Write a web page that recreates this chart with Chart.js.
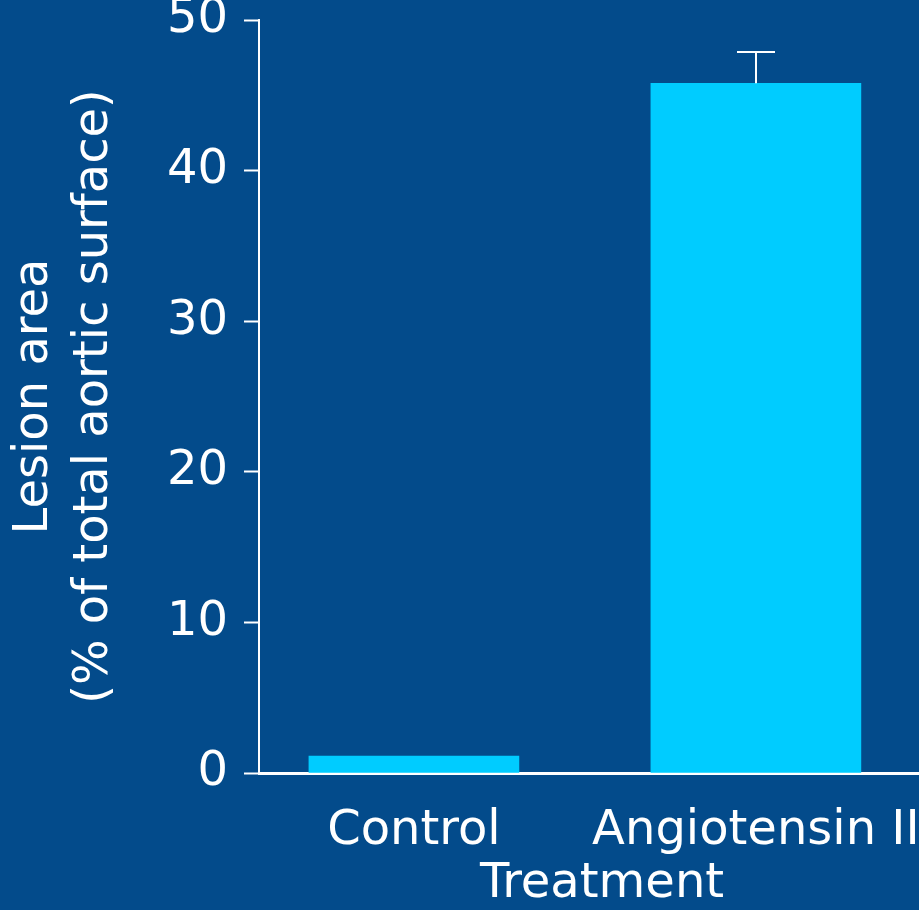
<!DOCTYPE html>
<html>
<head>
<meta charset="utf-8">
<script src="https://cdn.jsdelivr.net/npm/chart.js@4/dist/chart.umd.min.js"></script>
<style>
  html, body { margin: 0; padding: 0; background: #034B8B; overflow: hidden; }
  #wrap { position: relative; width: 945px; height: 910px; }
</style>
</head>
<body>
<div id="wrap"><canvas id="c"></canvas></div>
<script>
// Lesion area by treatment group (mean, upper SEM)
const categories = ['Control', 'Angiotensin II'];
const positions = [1, 2];
const lesionArea = [1.13, 45.8];
const lesionErr = [0, 2.1];
const yTicks = [0, 10, 20, 30, 40, 50];

const FONT = 'DejaVu Sans, Verdana, sans-serif';
const WHITE = '#ffffff';

// upward-only error bars with a cap
const errorBars = {
  id: 'errorBars',
  afterDatasetsDraw(chart) {
    const { ctx, scales: { x, y } } = chart;
    ctx.save();
    ctx.strokeStyle = WHITE;
    ctx.lineWidth = 2;
    lesionArea.forEach((v, i) => {
      if (!lesionErr[i]) return;
      const px = Math.round(x.getPixelForValue(positions[i]));
      const yTop = Math.round(y.getPixelForValue(v + lesionErr[i]));
      const yBar = y.getPixelForValue(v);
      ctx.beginPath();
      ctx.moveTo(px, yBar);
      ctx.lineTo(px, yTop);
      ctx.moveTo(px - 19, yTop);
      ctx.lineTo(px + 19, yTop);
      ctx.stroke();
    });
    ctx.restore();
  }
};

new Chart(document.getElementById('c'), {
  type: 'bar',
  data: {
    datasets: [{
      data: positions.map((p, i) => ({ x: p, y: lesionArea[i] })),
      backgroundColor: '#00CCFF',
      borderWidth: 0,
      barThickness: 210,
      grouped: false
    }]
  },
  options: {
    responsive: true,
    maintainAspectRatio: false,
    animation: false,
    layout: { padding: { top: 20, left: 0, right: 0, bottom: 0 } },
    plugins: { legend: { display: false }, tooltip: { enabled: false } },
    scales: {
      x: {
        type: 'linear',
        offset: false,
        min: 0.547,
        max: 2.553,
        afterBuildTicks(scale) { scale.ticks = positions.map(v => ({ value: v })); },
        afterFit(scale) {
          scale.height = 137;
          scale.paddingLeft = 0;
          scale.paddingRight = 0;
        },
        grid: { display: false, drawTicks: false, offset: false },
        border: { color: WHITE, width: 3 },
        ticks: {
          color: WHITE,
          padding: 30,
          font: { family: FONT, size: 48 },
          callback: (v) => categories[positions.indexOf(v)] ?? ''
        },
        title: {
          display: true,
          text: 'Treatment',
          color: WHITE,
          font: { family: FONT, size: 48, lineHeight: 1.0 },
          padding: { top: 0, bottom: 1 }
        }
      },
      y: {
        min: 0,
        max: 50,
        afterBuildTicks(scale) { scale.ticks = yTicks.map(v => ({ value: v })); },
        afterFit(scale) {
          scale.width = 259;
          scale.paddingTop = 0;
          scale.paddingBottom = 0;
        },
        grid: {
          drawOnChartArea: false,
          drawTicks: true,
          tickLength: 15,
          tickWidth: 2,
          tickColor: WHITE
        },
        border: { color: WHITE, width: 2 },
        ticks: {
          color: WHITE,
          padding: 16,
          font: { family: FONT, size: 48, lineHeight: 0.8 }
        },
        title: {
          display: true,
          text: ['Lesion area', '(% of total aortic surface)'],
          color: WHITE,
          font: { family: FONT, size: 48, lineHeight: 1.25 },
          padding: { top: 5, bottom: 0 }
        }
      }
    }
  },
  plugins: [errorBars]
});
</script>
</body>
</html>
